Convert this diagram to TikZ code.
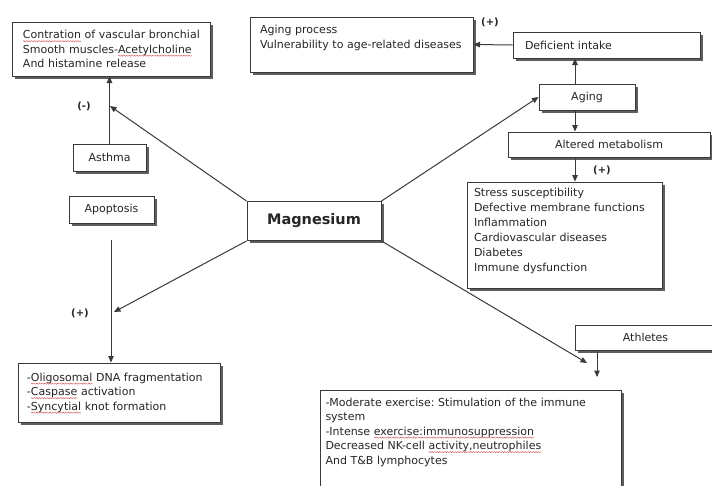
\documentclass[tikz,border=0pt]{standalone}
\usepackage{fontspec}
\setmainfont{DejaVu Sans}
\usetikzlibrary{arrows.meta,shadows,decorations.pathmorphing}
\frenchspacing

\definecolor{ink}{HTML}{262626}
\definecolor{edge}{HTML}{3A3A3A}
\definecolor{shade}{HTML}{5E5E5E}
\definecolor{spellred}{HTML}{D86060}

% red wavy underline, as a spell checker marks a word
\newsavebox{\spellbox}
\newcommand{\spell}[1]{\sbox{\spellbox}{#1}\usebox{\spellbox}%
  \tikz[overlay, baseline=0pt, x=1pt, y=1pt]{%
    \draw[spellred, line width=0.45pt, decorate,
          decoration={snake, amplitude=0.6pt, segment length=2.6pt}]
      (-\wd\spellbox,-2.6pt) -- (0pt,-2.6pt);}}
\newcommand{\txt}{\fontsize{11}{14.5}\selectfont}

\begin{document}
\begin{tikzpicture}[x=1pt,y=-1pt,
  box/.style={draw=edge, line width=1pt, fill=white, rectangle, inner sep=0pt,
    text=ink, font=\txt,
    drop shadow={shadow xshift=2.5pt, shadow yshift=-2.5pt, fill=shade, opacity=1}},
  conn/.style={draw=edge, line width=1pt},
  arr/.style={conn, -{Triangle[length=6.5pt,width=5.5pt]}},
  sign/.style={text=ink, font=\fontsize{10}{12}\selectfont\bfseries, inner sep=0pt}]

\useasboundingbox[fill=white] (0,0) rectangle (712,485);

% ---- boxes ----
\node[box, minimum width=198pt, minimum height=54pt, text width=176pt, align=left]
  (bronch) at (111,49)
  {\mbox{\spell{Contration} of vascular bronchial}\\\mbox{Smooth muscles-\spell{Acetylcholine}}\\\mbox{And histamine release}};

\node[box, minimum width=223pt, text width=203pt, align=left,
      text height=16.5pt, text depth=38.5pt]
  (agingp) at (361.5,44.5)
  {Aging process\\\mbox{Vulnerability to age-related diseases}};

\node[box, minimum width=187pt, minimum height=26pt, text width=163pt, align=left]
  (defic) at (606.5,45) {Deficient intake};

\node[box, minimum width=96pt, minimum height=26pt] (aging) at (587,97) {Aging};

\node[box, minimum width=202pt, minimum height=25pt] (altered) at (609,144.5) {Altered metabolism};

\node[box, minimum width=195pt, text width=181pt, align=left,
      font=\fontsize{11}{15}\selectfont,
      text height=14.5pt, text depth=91.5pt]
  (stress) at (564.5,235)
  {Stress susceptibility\\\mbox{Defective membrane functions}\\Inflammation\\\mbox{Cardiovascular diseases}\\Diabetes\\\mbox{Immune dysfunction}};

\node[box, minimum width=134pt, minimum height=39pt, font=\fontsize{14.5}{16}\selectfont\bfseries]
  (mg) at (314,221) {Magnesium};

\node[box, minimum width=73pt, minimum height=27pt] (asthma) at (109.5,157.5) {Asthma};

\node[box, minimum width=85pt, minimum height=27pt] (apop) at (111.5,209.5) {Apoptosis};

\node[box, minimum width=202pt, minimum height=59pt, text width=184pt, align=left]
  (apres) at (119,392.5)
  {\mbox{-\spell{Oligosomal} DNA fragmentation}\\\mbox{-\spell{Caspase} activation}\\\mbox{-\spell{Syncytial} knot formation}};

\node[box, minimum width=141pt, minimum height=25pt] (athletes) at (645.5,337.5) {Athletes};

\node[box, anchor=north west, inner xsep=5pt, text width=291pt, align=left,
      text height=15.5pt, text depth=104.5pt]
  (exercise) at (320,390)
  {\mbox{-Moderate exercise: Stimulation of the immune}\\system\\\mbox{-Intense \spell{exercise:immunosuppression}}\\\mbox{Decreased NK-cell \spell{activity,neutrophiles}}\\\mbox{And T\&B lymphocytes}};

% ---- free ends of connectors ----
\coordinate (t1) at (110,106);
\coordinate (a0) at (111,240);
\coordinate (t2) at (114,312);
\coordinate (v)  at (575,0);
\coordinate (t3) at (587,363);
\coordinate (t4) at (597,377);

% ---- connectors ----
\draw[arr] (mg.north west) -- (t1);
\draw[arr] (asthma.north) -- (asthma.north |- bronch.south);
\draw[arr] (a0) -- (a0 |- apres.north);
\draw[arr] (mg.south west) -- (t2);
\draw[arr] (mg.north east) -- (aging.west);
\draw[arr] (aging.north -| v) -- (defic.south -| v);
\draw[arr] (defic.west) -- (agingp.east);
\draw[arr] (aging.south -| v) -- (altered.north -| v);
\draw[arr] (altered.south -| v) -- (stress.north -| v);
\draw[arr] (mg.south east) -- (t3);
\draw[arr] (athletes.south -| t4) -- (t4);

% ---- signs ----
\node[sign] (s1) at (84,106) {(-)};
\node[sign] (s2) at (80,313) {(+)};
\node[sign] (s3) at (490,22) {(+)};
\node[sign] (s4) at (602,170) {(+)};

\end{tikzpicture}
\end{document}
